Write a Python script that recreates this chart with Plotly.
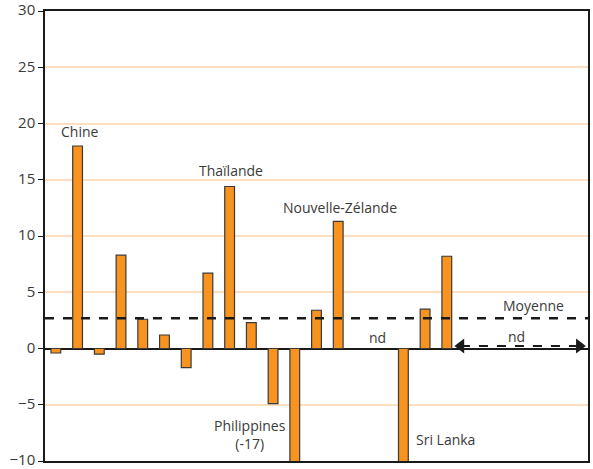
""" Bar chart: écarts par pays, avec moyenne """

import plotly.graph_objects as go

# slot positions (25 slots, some without data: "nd")
positions = list(range(1, 26))
values = [-0.4, 18.0, -0.5, 8.3, 2.6, 1.2, -1.7, 6.7, 14.4, 2.3, -4.9, -17.0,
          3.4, 11.3, None, None, -12.0, 3.5, 8.2,
          None, None, None, None, None, None]
mean_value = 2.7

y_ticks = [-10, -5, 0, 5, 10, 15, 20, 25, 30]

FONT = "Open Sans"
TEXT_COLOR = "#3a3a3a"

fig = go.Figure()

fig.add_trace(go.Bar(
    x=positions, y=values,
    width=0.45,
    marker=dict(color="#F7931E", line=dict(color="#3a3a3a", width=1.2)),
    showlegend=False,
    hoverinfo="skip"
))

# "nd" double arrow (dashed)
fig.add_trace(go.Scatter(
    x=[19.65, 25.1], y=[0.22, 0.22],
    mode="lines+markers",
    line=dict(color="#1a1a1a", width=2, dash="dash"),
    marker=dict(symbol=["triangle-left", "triangle-right"], size=13, color="#1a1a1a"),
    showlegend=False, hoverinfo="skip", cliponaxis=False
))

# Moyenne dashed line
fig.add_shape(type="line", xref="paper", x0=0, x1=1, y0=mean_value, y1=mean_value,
              line=dict(color="#1a1a1a", width=2.5, dash="dash"), layer="above")

labels = [
    ("Chine", 2.1, 19.3),
    ("Thaïlande", 9.06, 15.8),
    ("Nouvelle-Zélande", 14.1, 12.5),
    ("Philippines<br>(-17)", 9.94, -7.6),
    ("nd", 15.8, 1.0),
    ("Moyenne", 22.97, 3.8),
    ("nd", 22.2, 1.1),
    ("Sri Lanka", 18.96, -8.1),
]
for text, x, y in labels:
    fig.add_annotation(x=x, y=y, text=text, showarrow=False,
                       font=dict(family=FONT, size=14, color=TEXT_COLOR))

fig.update_layout(
    width=593, height=469,
    margin=dict(l=45, r=5, t=11, b=8),
    plot_bgcolor="white", paper_bgcolor="white",
    bargap=0.5,
    font=dict(family=FONT, color=TEXT_COLOR)
)

fig.update_xaxes(range=[0.5, 25.5], showticklabels=False, showgrid=False,
                 zeroline=False, showline=True, linecolor="#1a1a1a", linewidth=1.5,
                 mirror=True, ticks="", automargin=False)
fig.update_yaxes(range=[-10, 30], tickvals=y_ticks, showgrid=True,
                 gridcolor="#FDDFBF", gridwidth=2,
                 zeroline=True, zerolinecolor="#1a1a1a", zerolinewidth=2,
                 showline=True, linecolor="#1a1a1a", linewidth=1.5, mirror=True,
                 ticks="outside", ticklen=5, tickcolor="#1a1a1a",
                 ticklabeloverflow="allow", automargin=False, ticklabelshift=-1,
                 tickfont=dict(family=FONT, size=15, color=TEXT_COLOR))

fig.write_html("out.html", config={"displayModeBar": False},
               post_script="document.body.style.margin='0';")
